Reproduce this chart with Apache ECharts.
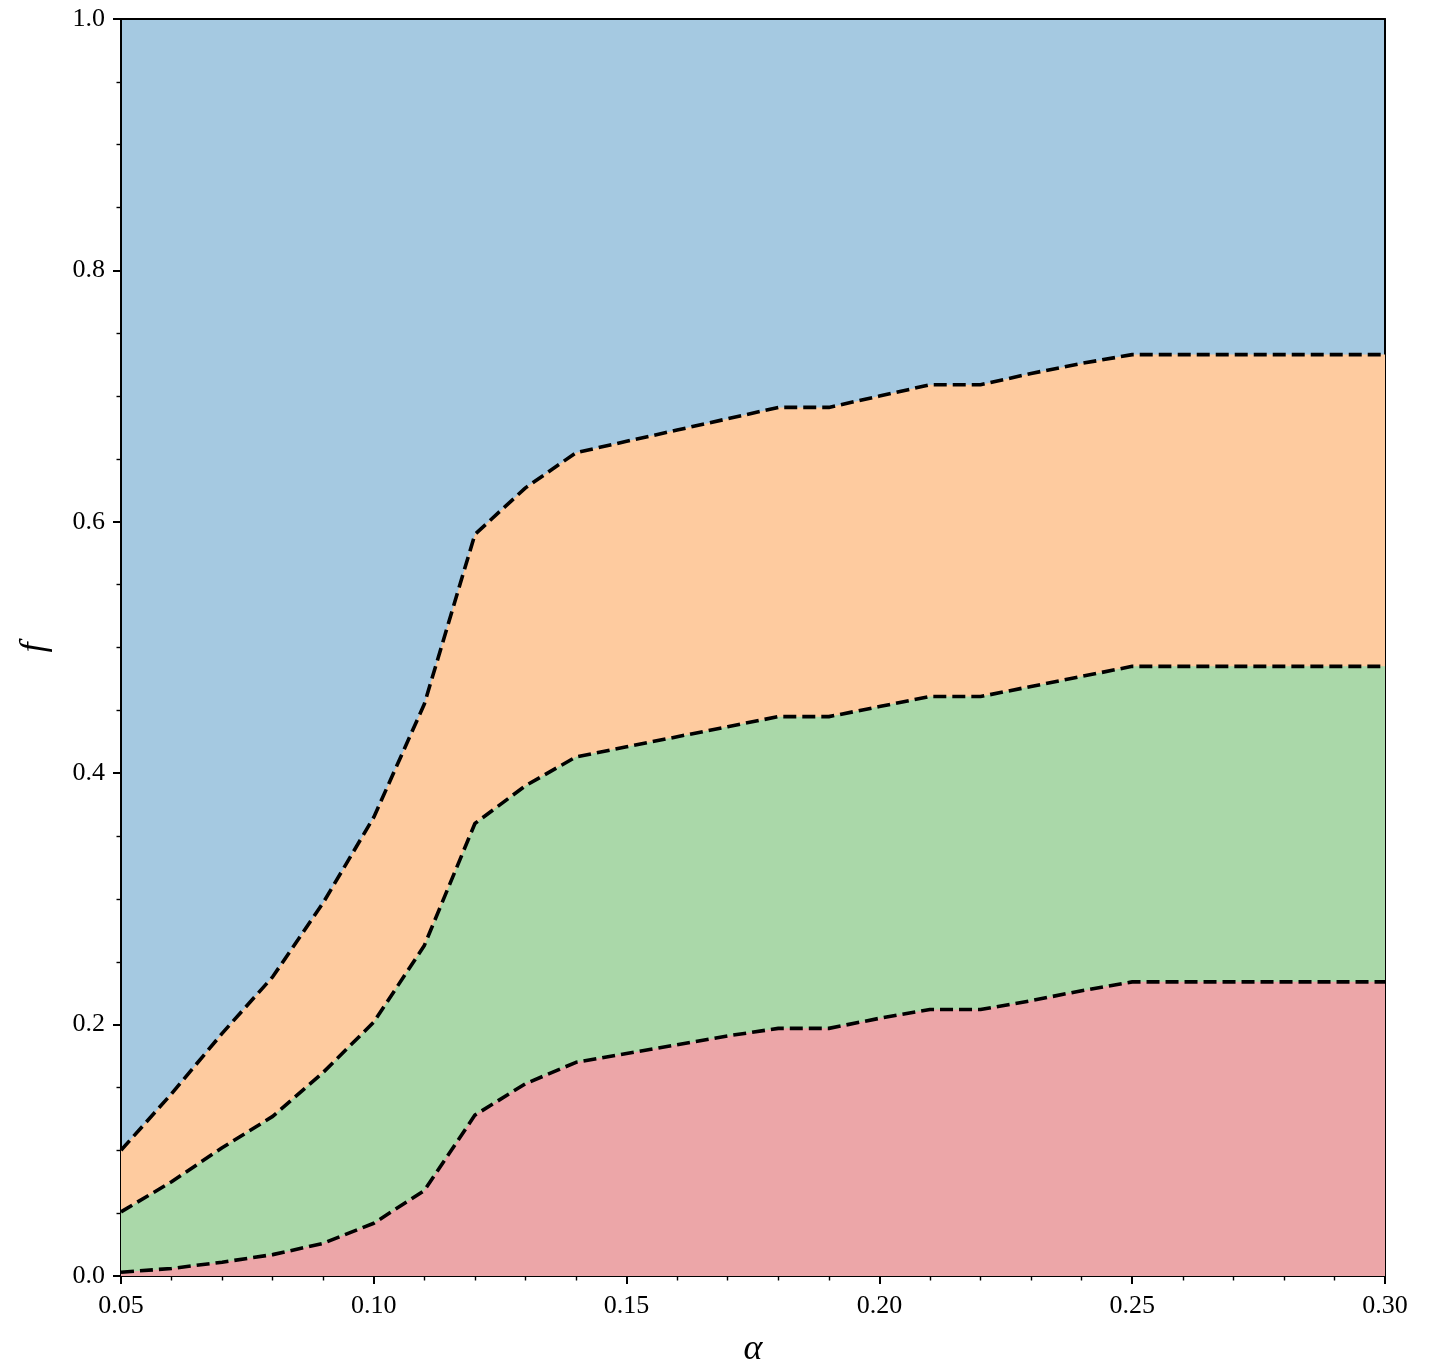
<!DOCTYPE html>
<html>
<head>
<meta charset="utf-8">
<script src="https://cdn.jsdelivr.net/npm/echarts@6/dist/echarts.min.js"></script>
<style>
html,body{margin:0;padding:0;background:#fff;}
#chart{width:1436px;height:1366px;}
</style>
</head>
<body>
<div id="chart"></div>
<script>
// alpha values
const alpha = [0.05,0.06,0.07,0.08,0.09,0.10,0.11,0.12,0.13,0.14,0.15,0.16,0.17,0.18,0.19,0.20,0.21,0.22,0.23,0.24,0.25,0.26,0.27,0.28,0.29,0.30];
// upper boundary (blue / orange)
const fTop = [0.100,0.145,0.193,0.238,0.297,0.365,0.455,0.590,0.627,0.655,0.664,0.673,0.682,0.691,0.691,0.700,0.709,0.709,0.718,0.726,0.733,0.733,0.733,0.733,0.733,0.733];
// middle boundary (orange / green)
const fMid = [0.051,0.075,0.102,0.127,0.162,0.202,0.263,0.360,0.390,0.413,0.421,0.429,0.437,0.445,0.445,0.453,0.461,0.461,0.469,0.477,0.485,0.485,0.485,0.485,0.485,0.485];
// lower boundary (green / red)
const fLow = [0.003,0.006,0.011,0.017,0.026,0.042,0.068,0.128,0.153,0.170,0.177,0.184,0.191,0.197,0.197,0.205,0.212,0.212,0.219,0.227,0.234,0.234,0.234,0.234,0.234,0.234];

const xTicks = [0.05,0.10,0.15,0.20,0.25,0.30];
const yTicks = [0.0,0.2,0.4,0.6,0.8,1.0];

const toPairs = arr => alpha.map((a,i)=>[a,arr[i]]);
const font = '"Liberation Serif","DejaVu Serif",serif';

function band(data, fill, z){
  return {
    type:'line', data:toPairs(data), symbol:'none', z:z,
    lineStyle:{color:'#000', width:3.6, type:[13,6]},
    areaStyle:{color:fill, opacity:1, origin:'start'},
    silent:true, animation:false
  };
}

const chart = echarts.init(document.getElementById('chart'));
chart.setOption({
  backgroundColor:'#fff',
  animation:false,
  grid:{left:121, top:19, right:51, bottom:90, show:true, backgroundColor:'#a5c9e1', borderWidth:0,
        containLabel:false, outerBoundsMode:'none'},
  xAxis:[{
    type:'value', min:0.05, max:0.30, interval:0.05,
    name:'α', nameLocation:'middle', nameGap:56,
    nameTextStyle:{fontFamily:font, fontStyle:'italic', fontSize:36, color:'#000'},
    axisLine:{show:true, onZero:false, lineStyle:{color:'#000', width:2}},
    axisTick:{show:true, length:8, lineStyle:{color:'#000', width:2}},
    minorTick:{show:true, splitNumber:5, length:4.5, lineStyle:{color:'#000', width:1.4}},
    splitLine:{show:false},
    axisLabel:{fontFamily:font, fontSize:26, color:'#000', margin:17,
      formatter:v=>{const t=xTicks.find(t=>Math.abs(t-v)<1e-9);return t===undefined?'':t.toFixed(2);}}
  },{
    type:'value', min:0.05, max:0.30, position:'top',
    axisLine:{show:true, onZero:false, lineStyle:{color:'#000', width:2}},
    axisTick:{show:false}, axisLabel:{show:false}, splitLine:{show:false}
  }],
  yAxis:[{
    type:'value', min:0, max:1.0, interval:0.2,
    name:'f', nameLocation:'middle', nameGap:68, nameRotate:90,
    nameTextStyle:{fontFamily:font, fontStyle:'italic', fontSize:36, color:'#000'},
    axisLine:{show:true, onZero:false, lineStyle:{color:'#000', width:2}},
    axisTick:{show:true, length:8, lineStyle:{color:'#000', width:2}},
    minorTick:{show:true, splitNumber:4, length:4.5, lineStyle:{color:'#000', width:1.4}},
    splitLine:{show:false},
    axisLabel:{fontFamily:font, fontSize:26, color:'#000', margin:16,
      formatter:v=>{const t=yTicks.find(t=>Math.abs(t-v)<1e-9);return t===undefined?'':t.toFixed(1);}}
  },{
    type:'value', min:0, max:1.0, position:'right',
    axisLine:{show:true, onZero:false, lineStyle:{color:'#000', width:2}},
    axisTick:{show:false}, axisLabel:{show:false}, splitLine:{show:false}
  }],
  series:[
    band(fTop, '#fecb9f', 2),
    band(fMid, '#aad8a9', 3),
    band(fLow, '#eca6a8', 4)
  ]
});
</script>
</body>
</html>
